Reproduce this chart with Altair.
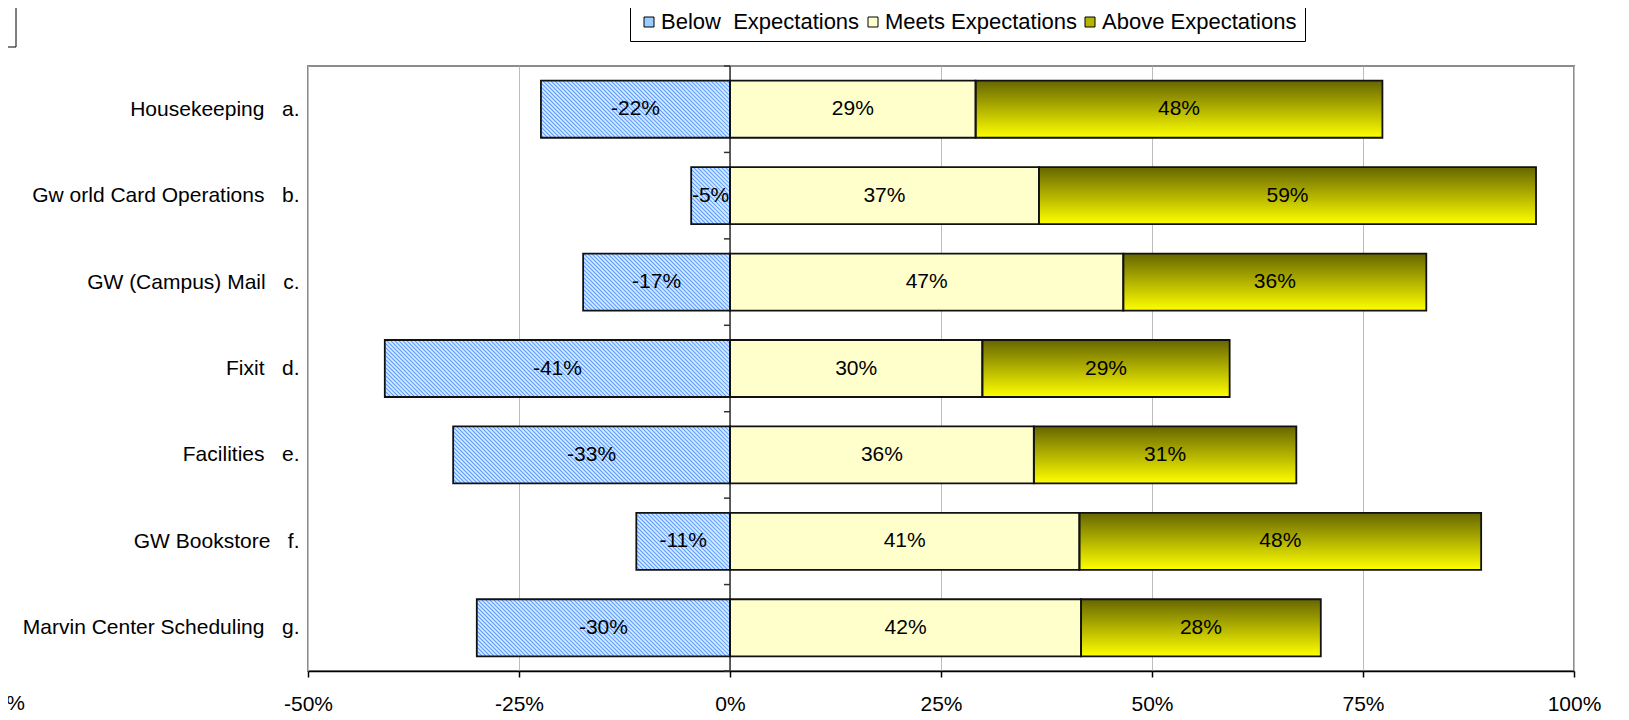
import json
import math
import altair as alt
import pandas as pd

# ---------------- data ----------------
categories = ["Housekeeping", "Gw orld Card Operations", "GW (Campus) Mail", "Fixit",
              "Facilities", "GW Bookstore", "Marvin Center Scheduling"]
letters = ["a.", "b.", "c.", "d.", "e.", "f.", "g."]
below = [-0.224, -0.046, -0.174, -0.409, -0.328, -0.111, -0.300]
meets = [0.291, 0.366, 0.466, 0.299, 0.360, 0.414, 0.416]
above = [0.482, 0.589, 0.359, 0.293, 0.311, 0.476, 0.284]
series = ["Below\u00a0\u00a0Expectations", "Meets Expectations", "Above Expectations"]
x_ticks = [-0.5, -0.25, 0, 0.25, 0.5, 0.75, 1.0]

FONT = "Liberation Sans"
W, H = 1266, 605
XMIN, XMAX = -0.5, 1.0
PAD = 0.17
n = len(categories)

labels = [c + "\u00a0\u00a0\u00a0" + l for c, l in zip(categories, letters)]

rows = []
for i in range(n):
    segs = [(series[0], below[i], 0.0, below[i]),
            (series[1], meets[i], 0.0, meets[i]),
            (series[2], above[i], meets[i], meets[i] + above[i])]
    for s, v, a, b in segs:
        rows.append(dict(series=s, v=v, x0=min(a, b), x1=max(a, b),
                         y0=i + PAD, y1=i + 1 - PAD, xm=(a + b) / 2, ym=i + 0.5))
bars = pd.DataFrame(rows)

# diagonal hatch for the "below" bars (derived from the bar extents)
pxx = W / (XMAX - XMIN)
pyy = H / n
STEP = 4.0
srows = []
for i in range(n):
    bx0 = (below[i] - XMIN) * pxx
    bx1 = (0 - XMIN) * pxx
    by0 = (i + PAD) * pyy
    by1 = (i + 1 - PAD) * pyy
    c = math.floor((bx0 - by1) / STEP) * STEP
    while c <= bx1 - by0:
        ys = max(by0, bx0 - c)
        ye = min(by1, bx1 - c)
        if ye > ys:
            srows.append(dict(x=(c + ys) / pxx + XMIN, x2=(c + ye) / pxx + XMIN,
                              y=ys / pyy, y2=ye / pyy))
        c += STEP
stripes = pd.DataFrame(srows)

# ---------------- scales / axes ----------------
xscale = alt.Scale(domain=[XMIN, XMAX], nice=False, zero=False)
yscale = alt.Scale(domain=[0, n], reverse=True, nice=False, zero=False)

xaxis = alt.Axis(values=x_ticks,
                 labelExpr="(datum.value < 0 ? '-' : '') + format(abs(datum.value), '.0%')",
                 grid=True, gridColor="#BDBDBD", gridWidth=1,
                 domainColor="black", domainWidth=1.5,
                 tickColor="black", tickSize=6, tickWidth=1.5,
                 labelPadding=16, labelFontSize=21, labelFont=FONT, labelColor="black",
                 labelFlush=False, labelOverlap=False, title=None)
yaxis = alt.Axis(values=[i + 0.5 for i in range(n)],
                 labelExpr=json.dumps(labels, ensure_ascii=False) + "[floor(datum.value)]",
                 domain=False, ticks=False, grid=False, labelPadding=9, labelLimit=600,
                 labelFontSize=21, labelFont=FONT, labelColor="black", title=None)


def X(f):
    return alt.X(f, type="quantitative", scale=xscale, axis=xaxis, title=None)


def Y(f):
    return alt.Y(f, type="quantitative", scale=yscale, axis=yaxis, title=None)


legend = alt.Legend(orient="none", legendX=322, legendY=-63, direction="horizontal",
                    title=None, symbolType="square", symbolSize=100,
                    symbolStrokeColor="black", symbolStrokeWidth=1,
                    labelFontSize=22, labelFont=FONT, labelColor="black", labelLimit=400,
                    strokeColor="black", fillColor="white", padding=8,
                    columnPadding=2, labelOffset=1)

base = alt.Chart(bars).mark_rect().encode(
    x=X("x0"), x2="x1", y=Y("y0"), y2="y1",
    color=alt.Color("series:N",
                    scale=alt.Scale(domain=series, range=["#99CCFF", "#FFFFCC", "#B5B500"]),
                    legend=legend),
)

below_bg = alt.Chart(bars).transform_filter(
    alt.datum.series == series[0]
).mark_rect(fill="#CFEEFF").encode(x=X("x0"), x2="x1", y=Y("y0"), y2="y1")

hatch = alt.Chart(stripes).mark_rule(stroke="#6397FA", strokeWidth=1.05).encode(
    x=X("x"), x2="x2", y=Y("y"), y2="y2")

grad = alt.Gradient(gradient="linear",
                    stops=[alt.GradientStop(color="#666600", offset=0),
                           alt.GradientStop(color="#FFFF00", offset=1)],
                    x1=0, x2=0, y1=0, y2=1)
above_fill = alt.Chart(bars).transform_filter(
    alt.datum.series == series[2]
).mark_rect(fill=grad).encode(x=X("x0"), x2="x1", y=Y("y0"), y2="y1")

zero_line = alt.Chart(alt.Data(values=[{}])).mark_rule(color="#333333", strokeWidth=1.5).encode(
    x=alt.X(datum=0, type="quantitative", scale=xscale, axis=xaxis, title=None),
    y=alt.Y(datum=0, type="quantitative", scale=yscale, axis=yaxis, title=None),
    y2=alt.datum(n))

bounds = pd.DataFrame({"b": list(range(n + 1))})
btick = alt.Chart(bounds).mark_rule(color="#333333", strokeWidth=1.5, x2Offset=-6).encode(
    x=alt.X(datum=0, type="quantitative", scale=xscale, axis=xaxis, title=None),
    x2=alt.datum(0), y=Y("b"))

outline = alt.Chart(bars).mark_rect(fillOpacity=0, stroke="#111111", strokeWidth=1.8).encode(
    x=X("x0"), x2="x1", y=Y("y0"), y2="y1")

text = alt.Chart(bars).transform_calculate(
    label="(datum.v < 0 ? '-' : '') + format(abs(datum.v), '.0%')"
).mark_text(font=FONT, fontSize=21, color="black", baseline="middle").encode(
    x=X("xm"), y=Y("ym"), text="label:N")

# cut-off elements at the left edge of the original picture
title_box = alt.Chart(alt.Data(values=[{}])).mark_rect(
    fillOpacity=0, stroke="black", strokeWidth=1).encode(
    x=alt.value(-340), x2=alt.value(-292), y=alt.value(-63), y2=alt.value(-19))
cut_label = alt.Chart(alt.Data(values=[{}])).mark_text(
    font=FONT, fontSize=21, color="black", align="right", baseline="top").encode(
    x=alt.value(-283), y=alt.value(H + 22), text=alt.value("-100%"))

chart = alt.layer(base, below_bg, hatch, above_fill, zero_line, btick, outline, text,
                  title_box, cut_label).properties(
    width=W, height=H,
    padding={"left": 300, "top": 58, "right": 40, "bottom": 49},
    autosize=alt.AutoSizeParams(type="none"),
).configure(font=FONT).configure_view(stroke="#8C8C8C", strokeWidth=2)

chart.save("out.html", embed_options={"renderer": "svg", "actions": False})
